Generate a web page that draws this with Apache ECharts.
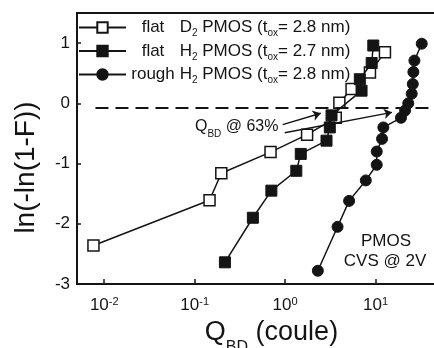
<!DOCTYPE html>
<html><head><meta charset="utf-8">
<script src="https://cdn.jsdelivr.net/npm/echarts@6/dist/echarts.min.js"></script>
<style>html,body{margin:0;padding:0;background:#fff}#c{width:434px;height:348px}</style>
</head><body><div id="c"></div>
<script>
// ---- data ----
const seriesNames = ['flat D2 PMOS (tox= 2.8 nm)', 'flat H2 PMOS (tox= 2.7 nm)', 'rough H2 PMOS (tox= 2.8 nm)'];
const flatD2X = [0.0076, 0.146, 0.197, 0.69, 1.75, 3.63, 3.98, 5.43, 8.67, 12.7];
const flatD2Y = [-2.36, -1.61, -1.16, -0.81, -0.52, -0.24, 0.01, 0.24, 0.51, 0.85];
const flatH2X = [0.216, 0.44, 0.705, 1.33, 1.49, 2.87, 3.12, 3.26, 7.0, 6.7, 9.06, 9.44];
const flatH2Y = [-2.64, -1.90, -1.45, -1.12, -0.84, -0.62, -0.40, -0.20, 0.21, 0.40, 0.67, 0.96];
const roughH2X = [2.3, 3.8, 5.1, 7.8, 10.3, 10.3, 11.8, 12.2, 19.1, 21.2, 23.0, 25.1, 25.8, 26.2, 26.9, 32.4];
const roughH2Y = [-2.78, -2.05, -1.62, -1.28, -1.02, -0.80, -0.59, -0.40, -0.24, -0.12, 0.0, 0.16, 0.32, 0.52, 0.71, 0.99];
const xDomain = [0.005, 100];
const yDomain = [-3, 1.5];
const yTicks = [-3, -2, -1, 0, 1];
const refLine63 = { xFrom: 0.008, y: -0.07 };
const arrowUpper = [[0.94, -0.354], [2.48, -0.166]];
const arrowLower = [[0.99, -0.49], [15.2, -0.15]];

const INK = '#141414';
const FONT = "'Liberation Sans', Arial, sans-serif";
const zip = (xs, ys) => xs.map((x, i) => [x, ys[i]]);

const legendRich = {
  w: { width: 44, align: 'center', fontSize: 17, lineHeight: 22, fontFamily: FONT, color: INK },
  n: { fontSize: 17, lineHeight: 22, fontFamily: FONT, color: INK },
  s: { fontSize: 10, lineHeight: 8, verticalAlign: 'bottom', fontFamily: FONT, color: INK }
};
const legendText = {
  [seriesNames[0]]: '{w|flat}{n| D}{s|2}{n| PMOS (t}{s|ox}{n|= 2.8 nm)}',
  [seriesNames[1]]: '{w|flat}{n| H}{s|2}{n| PMOS (t}{s|ox}{n|= 2.7 nm)}',
  [seriesNames[2]]: '{w|rough}{n| H}{s|2}{n| PMOS (t}{s|ox}{n|= 2.8 nm)}'
};

const chart = echarts.init(document.getElementById('c'), null, { renderer: 'canvas' });
const lineStyle = { color: INK, width: 1.5 };
chart.setOption({
  animation: false,
  textStyle: { fontFamily: FONT },
  grid: { left: 77, top: 13, right: -32, bottom: 64, containLabel: false, outerBoundsMode: 'none',
          show: true, borderColor: INK, borderWidth: 2, backgroundColor: 'transparent' },
  legend: {
    orient: 'vertical', left: 78, top: 19, padding: 0, itemGap: 4, itemWidth: 47, itemHeight: 13,
    data: seriesNames,
    formatter: (n) => legendText[n],
    textStyle: { rich: legendRich }
  },
  xAxis: {
    type: 'log', min: xDomain[0], max: xDomain[1], logBase: 10,
    axisLine: { onZero: false, lineStyle: { color: INK, width: 2 } },
    axisTick: { inside: true, length: 5, lineStyle: { color: INK, width: 1.5 } },
    splitLine: { show: false },
    axisLabel: {
      margin: 12, showMinLabel: false,
      formatter: (v) => {
        const e = Math.round(Math.log10(v));
        if (Math.abs(Math.log10(v) - e) > 1e-6) return '';
        return '{b|10}{p|' + e + '}';
      },
      rich: {
        b: { fontSize: 17, lineHeight: 18, fontFamily: FONT, color: INK },
        p: { fontSize: 11, lineHeight: 10, verticalAlign: 'top', fontFamily: FONT, color: INK }
      }
    },
    name: '{q|Q}{s|BD}{q| (coule)}',
    nameLocation: 'middle', nameGap: 26,
    nameTextStyle: {
      rich: {
        q: { fontSize: 27, lineHeight: 46, fontFamily: FONT, color: INK },
        s: { fontSize: 16, lineHeight: 14, verticalAlign: 'bottom', fontFamily: FONT, color: INK }
      }
    }
  },
  yAxis: {
    type: 'value', min: yDomain[0], max: yDomain[1], interval: 1,
    axisLine: { onZero: false, lineStyle: { color: INK, width: 2 } },
    axisTick: { inside: true, length: 4, lineStyle: { color: INK, width: 1.5 } },
    splitLine: { show: false },
    axisLabel: {
      margin: 7, fontSize: 17, color: INK, fontFamily: FONT,
      formatter: (v) => (yTicks.includes(v) ? String(v) : '')
    },
    name: 'ln(-ln(1-F))', nameLocation: 'middle', nameGap: 36,
    nameTextStyle: { fontSize: 28, lineHeight: 30, color: INK, fontFamily: FONT, padding: [0, 38, 0, 0] }
  },
  series: [
    {
      name: seriesNames[0], type: 'line', data: zip(flatD2X, flatD2Y),
      symbol: 'rect', symbolSize: 11, lineStyle,
      itemStyle: { color: '#fff', borderColor: INK, borderWidth: 1.5 },
      z: 3,
      markLine: {
        silent: true, animation: false,
        label: { show: false },
        data: [
          [{ coord: [refLine63.xFrom, refLine63.y], symbol: 'none', lineStyle: { type: [13, 7], width: 2, color: INK } },
           { coord: [xDomain[1], refLine63.y], symbol: 'none' }],
          [{ coord: arrowUpper[0], symbol: 'none', lineStyle: { type: 'solid', width: 1.5, color: INK } },
           { coord: arrowUpper[1], symbol: 'arrow', symbolSize: 8 }],
          [{ coord: arrowLower[0], symbol: 'none', lineStyle: { type: 'solid', width: 1.5, color: INK } },
           { coord: arrowLower[1], symbol: 'arrow', symbolSize: 8 }]
        ]
      }
    },
    {
      name: seriesNames[1], type: 'line', data: zip(flatH2X, flatH2Y),
      symbol: 'rect', symbolSize: 11, lineStyle,
      itemStyle: { color: INK, borderColor: INK, borderWidth: 1 }, z: 4
    },
    {
      name: seriesNames[2], type: 'line', data: zip(roughH2X, roughH2Y),
      symbol: 'circle', symbolSize: 11, lineStyle,
      itemStyle: { color: INK, borderColor: INK, borderWidth: 1 }, z: 4
    }
  ],
  graphic: [
    {
      type: 'text', left: 195, top: 119, silent: true,
      style: {
        text: '{m|Q}{s|BD}{m| @ 63%}',
        rich: {
          m: { fontSize: 16, lineHeight: 24, fontFamily: FONT, fill: INK },
          s: { fontSize: 10, lineHeight: 6, verticalAlign: 'bottom', fontFamily: FONT, fill: INK }
        }
      }
    },
    {
      type: 'text', x: 386, y: 241, silent: true,
      style: { text: 'PMOS', fontSize: 17, fontFamily: FONT, fill: INK, align: 'center', verticalAlign: 'middle' }
    },
    {
      type: 'text', x: 385, y: 261, silent: true,
      style: { text: 'CVS @ 2V', fontSize: 17, fontFamily: FONT, fill: INK, align: 'center', verticalAlign: 'middle' }
    }
  ]
});
</script>
</body></html>
